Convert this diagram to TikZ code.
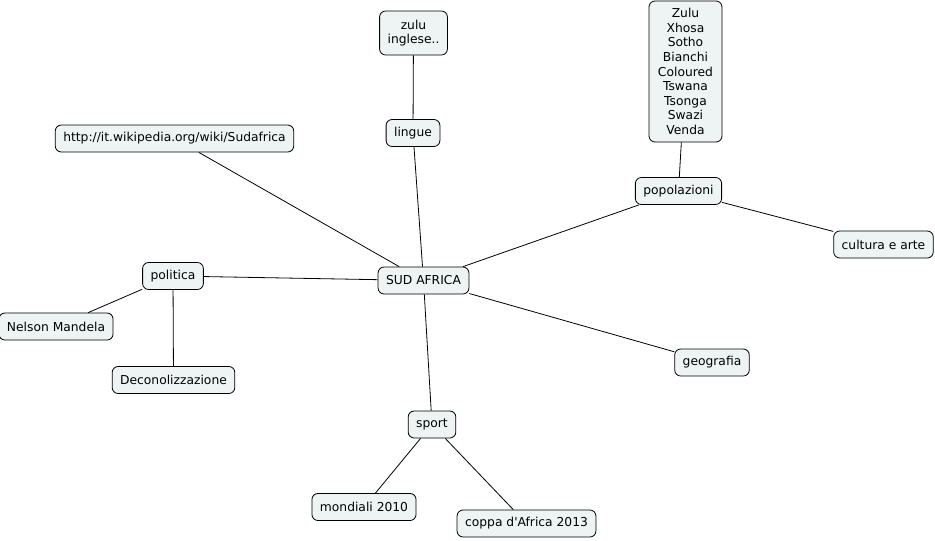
\documentclass[tikz,border=0pt]{standalone}
\usepackage{fontspec}
\setmainfont{DejaVu Sans}
\definecolor{boxfill}{RGB}{238,244,244}
\tikzset{
  topic/.style={draw=black, fill=boxfill, rounded corners=6pt, line width=0.8pt,
    font=\fontsize{12.3}{14.6}\selectfont, align=center, inner xsep=8pt,
    inner ysep=3pt, minimum height=27pt},
  link/.style={line width=0.8pt}
}
\begin{document}
\begin{tikzpicture}[x=1pt,y=-1pt]
  \useasboundingbox (0,0) rectangle (935,541);
  % nodo centrale
  \node[topic] (sud) at (423.5,280.5) {SUD AFRICA};
  % ramo in alto: lingue
  \node[topic] (lingue) at (413,133) {lingue};
  \node[topic, minimum height=44pt] (lang) at (413.5,33) {zulu\\inglese..};
  \node[topic] (wiki) at (174.5,138.5) {http://it.wikipedia.org/wiki/Sudafrica};
  % ramo a destra: popolazioni
  \node[topic] (popol) at (678.5,191) {popolazioni};
  \node[topic, minimum height=141pt, minimum width=73pt] (gruppi) at (685.5,71.5)
    {Zulu\\Xhosa\\Sotho\\Bianchi\\Coloured\\Tswana\\Tsonga\\Swazi\\Venda};
  \node[topic] (cultura) at (883.5,244.5) {cultura e arte};
  \node[topic] (geo) at (712,362.5) {geografia};
  % ramo a sinistra: politica
  \node[topic] (pol) at (173,276) {politica};
  \node[topic] (mandela) at (56,326.5) {Nelson Mandela};
  \node[topic] (decol) at (173.5,380) {Deconolizzazione};
  % ramo in basso: sport
  \node[topic] (sport) at (432,424.5) {sport};
  \node[topic] (mondiali) at (364,507) {mondiali 2010};
  \node[topic] (coppa) at (526.5,523.5) {coppa d\textquotesingle Africa 2013};
  % collegamenti
  \draw[link] (sud) -- (lingue);
  \draw[link] (lingue) -- (lang);
  \draw[link] (sud) -- (wiki);
  \draw[link] (sud) -- (popol);
  \draw[link] (popol) -- (gruppi);
  \draw[link] (popol) -- (cultura);
  \draw[link] (sud) -- (geo);
  \draw[link] (sud) -- (pol);
  \draw[link] (pol) -- (mandela);
  \draw[link] (pol) -- (decol);
  \draw[link] (sud) -- (sport);
  \draw[link] (sport) -- (mondiali);
  \draw[link] (sport) -- (coppa);
\end{tikzpicture}
\end{document}
